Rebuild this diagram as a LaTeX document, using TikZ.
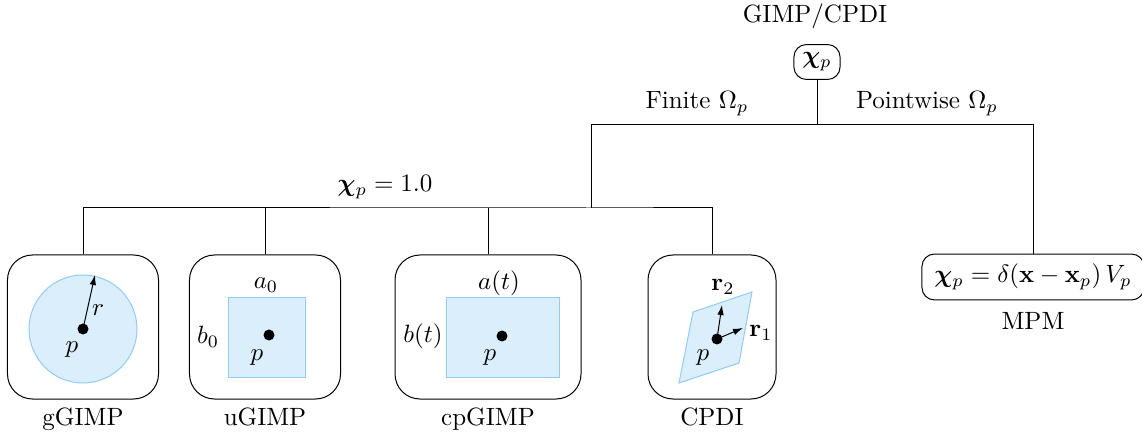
\documentclass[tikz,border=0pt]{standalone}
\usepackage{amsmath}
\usepackage{bm}
\usetikzlibrary{arrows.meta,positioning}

\definecolor{cellfill}{RGB}{218,238,252}
\definecolor{celledge}{RGB}{140,205,250}

\begin{document}
\begin{tikzpicture}[x=0.4pt,y=-0.4pt,
  tag/.style={draw, rounded corners=5pt},
  cell/.style={draw, rounded corners=10pt, minimum height=57.6pt},
  region/.style={fill=cellfill, draw=celledge},
  vec/.style={-{Latex[length=4pt,width=2.6pt]}},
  dot/.style={fill, circle, inner sep=0pt, minimum size=4.4pt}]

\useasboundingbox (0,0) rectangle (1142,439);

% root of the tree
\node[tag] (chi) at (817,62) {$\bm{\chi}_p$};
\node (gimpcpdi) at (815,16) {GIMP/CPDI};

\node[tag, inner xsep=5pt, inner ysep=4pt] (mpm) at (1033,277) {$\bm{\chi}_p = \delta(\mathbf{x}-\mathbf{x}_p)\,V_p$};
\node (mpmname) at (1033,321) {MPM};

% the four finite domains
\node[cell, minimum width=60.4pt] (ggimp) at (83,327) {};
\node[cell, minimum width=60.4pt] (ugimp) at (265,327) {};
\node[cell, minimum width=74.4pt] (cpgimp) at (488,327) {};
\node[cell, minimum width=51.2pt] (cpdi) at (712,327) {};

\node[below=0pt of ggimp] (ggimpname) {gGIMP};
\node[below=0pt of ugimp] (ugimpname) {uGIMP};
\node[below=0pt of cpgimp] (cpgimpname) {cpGIMP};
\node[below=0pt of cpdi] (cpdiname) {CPDI};

% branches
\coordinate (split) at (817,125);
\coordinate (finite) at (591,125);
\coordinate (bar) at (591,208);

\draw (chi) -- (split);
\draw (bar) -- (finite) -| (mpm);
\draw (ggimp) |- (bar) -| (cpdi);
\draw (ugimp) -- (ugimp |- bar);
\draw (cpgimp) -- (cpgimp |- bar);

\node (finitelab) at (697,104) {Finite $\Omega_p$};
\node (pointlab) at (927,104) {Pointwise $\Omega_p$};
\node (unitlab) at (385,187) {$\bm{\chi}_p = 1.0$};

% gGIMP
\draw[region] (83,329) circle (54);
\node[dot] (gp) at (83,329) {};
\draw[vec] (gp.center) -- (95,275);
\node (gr) at (98,310) {$r$};
\node (gplab) at (72,350) {$p$};

% uGIMP
\draw[region] (228,298) rectangle (305,378);
\node[dot] (up) at (269,335) {};
\node (ua) at (266,285) {$a_0$};
\node (ub) at (208,337) {$b_0$};
\node (uplab) at (257,358) {$p$};

% cpGIMP
\draw[region] (446,298) rectangle (559,378);
\node[dot] (cp) at (502,336) {};
\node (ca) at (499,283) {$a(t)$};
\node (cb) at (423,336) {$b(t)$};
\node (cplab) at (490,358) {$p$};

% CPDI
\draw[region] (693,312) -- (752,292) -- (739,363) -- (679,383) -- cycle;
\node[dot] (dp) at (717,339) {};
\draw[vec] (dp.center) -- (722,305);
\draw[vec] (dp.center) -- (743,328);
\node (dr2) at (723,287) {$\mathbf{r}_2$};
\node (dr1) at (761,333) {$\mathbf{r}_1$};
\node (dplab) at (703,358) {$p$};

\end{tikzpicture}
\end{document}
